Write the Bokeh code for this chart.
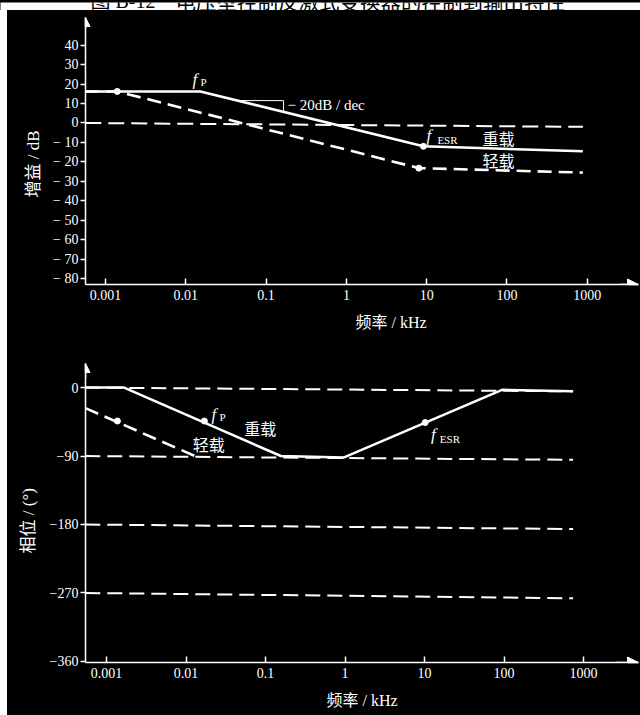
import math
from bokeh.plotting import figure
from bokeh.layouts import column, row
from bokeh.models import Range1d, FixedTicker, Label, Arrow, NormalHead, Spacer, Title
from bokeh.core.properties import value
from bokeh.embed import file_html
from bokeh.resources import INLINE

# ---------------- data ----------------
title_fig_no = "图 B-12"
title_text = "电压型控制反激式变换器的控制到输出特性"

x_ticks = [0.001, 0.01, 0.1, 1, 10, 100, 1000]
x_tick_labels = ["0.001", "0.01", "0.1", "1", "10", "100", "1000"]

gain_ticks = [-80, -70, -60, -50, -40, -30, -20, -10, 0, 10, 20, 30, 40]
gain_tick_labels = ["\u2212 80", "\u2212 70", "\u2212 60", "\u2212 50", "\u2212 40",
                    "\u2212 30", "\u2212 20", "\u2212 10", "0", "10", "20", "30", "40"]
phase_ticks = [-360, -270, -180, -90, 0]
phase_tick_labels = ["\u2212360", "\u2212270", "\u2212180", "\u221290", "0"]

# gain (dB) vs frequency (kHz)
gain_heavy_f = [0.00056, 0.0152, 9.1, 880]
gain_heavy_db = [16.2, 16.2, -12.0, -14.5]
gain_light_f = [0.00056, 0.0014, 8.0, 880]
gain_light_db = [16.2, 16.2, -23.2, -25.5]
gain_ref_f = [0.00056, 880]
gain_ref_db = [0.0, -2.0]
gain_dot_f = [0.0014, 9.1, 8.0]
gain_dot_db = [16.2, -12.0, -23.2]
slope_f = [0.045, 0.165, 0.165]
slope_db = [11.5, 11.5, 5.7]

# phase (deg) vs frequency (kHz)
phase_heavy_f = [0.00054, 0.00166, 0.156, 0.955, 94.5, 740]
phase_heavy_deg = [0, 0, -90, -92, -3, -5]
phase_light_f = [0.00054, 0.0129]
phase_light_deg = [-27, -90]
phase_ref_f = [0.00054, 740]
phase_ref_start = [0, -90, -180, -270]
phase_ref_end = [-5, -95, -186, -277]
phase_dot_f = [0.00137, 0.017, 10.2]
phase_dot_deg = [-44, -44, -46]

SERIF = "'Liberation Serif', 'Noto Sans CJK SC'"
CJK = "'Noto Sans CJK SC'"


def style(p):
    p.background_fill_color = "black"
    p.border_fill_color = "black"
    p.outline_line_color = None
    p.xgrid.visible = False
    p.ygrid.visible = False
    for ax in (p.xaxis[0], p.yaxis[0]):
        ax.axis_line_color = "white"
        ax.axis_line_width = 1.5
        ax.major_tick_line_color = "white"
        ax.major_tick_line_width = 1.5
        ax.minor_tick_line_color = None
        ax.major_label_text_color = "white"
        ax.major_label_text_font = "Liberation Serif"
        ax.major_label_text_font_size = "14px"
    xa = p.xaxis[0]
    xa.ticker = FixedTicker(ticks=x_ticks)
    xa.major_label_overrides = dict(zip(x_ticks, x_tick_labels))
    xa.major_tick_in = 6
    xa.major_tick_out = 0
    xa.major_label_standoff = 5
    ya = p.yaxis[0]
    ya.major_tick_in = 0
    ya.major_tick_out = 5
    ya.major_label_standoff = 2


def lab(p, x, y, text, size, font=SERIF, fstyle="normal"):
    p.add_layout(Label(x=x, y=y, text=text, text_color="white", text_font=font,
                       text_font_size=size, text_font_style=fstyle, text_align="left",
                       text_baseline="middle"))


def side_title(p, text, side, offset, standoff, size="16px"):
    p.add_layout(Title(text=text, align="left", offset=offset, standoff=standoff,
                       text_color="white", text_font=SERIF, text_font_size=size,
                       text_font_style="normal", background_fill_color=None), side)


# ---------------- title strip ----------------
t = figure(width=640, height=10, x_range=Range1d(0, 640), y_range=Range1d(0, 10),
           min_border=0, x_axis_location=None, y_axis_location=None,
           output_backend="svg", toolbar_location=None)
t.background_fill_color = "white"
t.border_fill_color = "white"
t.outline_line_color = None
t.xgrid.visible = False
t.ygrid.visible = False
t.text(x=[90], y=[11.5], text=[title_fig_no], text_color="black",
       text_font=value(SERIF), text_font_size="20px", text_baseline="middle")
t.text(x=[175], y=[11.5], text=[title_text], text_color="black",
       text_font=value(CJK), text_font_size="20.5px", text_baseline="middle")

# ---------------- gain panel ----------------
XL1, XR1 = 10 ** -3.249, 10 ** 3.638
YB1, YT1 = -83.0, 54.2
p1 = figure(width=633, height=335, x_axis_type="log", x_range=Range1d(XL1, XR1),
            y_range=Range1d(YB1, YT1), min_border_left=78, min_border_right=2,
            min_border_top=7, min_border_bottom=61,
            output_backend="svg", toolbar_location=None)
style(p1)
p1.yaxis[0].ticker = FixedTicker(ticks=gain_ticks)
p1.yaxis[0].major_label_overrides = dict(zip(gain_ticks, gain_tick_labels))

p1.line(gain_ref_f, gain_ref_db, line_color="white", line_width=2, line_dash="16 7")
p1.line(gain_light_f, gain_light_db, line_color="white", line_width=2.6, line_dash="14 7")
p1.line(gain_heavy_f, gain_heavy_db, line_color="white", line_width=2.5)
p1.line(slope_f, slope_db, line_color="white", line_width=1)
p1.scatter(gain_dot_f, gain_dot_db, size=6, color="white")

p1.add_layout(Arrow(end=NormalHead(size=11, fill_color="white", line_color="white"),
                    x_start=10 ** 3.4, y_start=YB1, x_end=XR1, y_end=YB1,
                    line_color="white", line_width=1.5))
p1.add_layout(Arrow(end=NormalHead(size=9, fill_color="white", line_color="white"),
                    x_start=XL1, y_start=YT1 - 6, x_end=XL1, y_end=YT1,
                    line_color="white", line_width=1.5))

lab(p1, 0.0121, 22.4, "f", "17px", fstyle="italic")
lab(p1, 0.0152, 20.8, "P", "11px")
lab(p1, 0.185, 9.25, "\u2212 20dB / dec", "15px")
lab(p1, 9.94, -6.4, "f", "17px", fstyle="italic")
lab(p1, 13.6, -8.5, "ESR", "11px")
lab(p1, 49.5, -7.5, "重载", "16px", font=CJK)
lab(p1, 49.5, -19.0, "轻载", "16px", font=CJK)
side_title(p1, "频率 / kHz", "below", offset=270, standoff=18)
side_title(p1, "增益 / dB", "left", offset=87, standoff=15, size="17px")

# ---------------- phase panel ----------------
XL2, XR2 = 10 ** -3.265, 10 ** 3.692
YB2, YT2 = -361.4, 31.6
p2 = figure(width=633, height=370, x_axis_type="log", x_range=Range1d(XL2, XR2),
            y_range=Range1d(YB2, YT2), min_border_left=75, min_border_right=1,
            min_border_top=18, min_border_bottom=53,
            output_backend="svg", toolbar_location=None)
style(p2)
p2.yaxis[0].ticker = FixedTicker(ticks=phase_ticks)
p2.yaxis[0].major_label_overrides = dict(zip(phase_ticks, phase_tick_labels))
xa2 = p2.xaxis[0]
xa2.axis_label = "频率 / kHz"
xa2.axis_label_text_color = "white"
xa2.axis_label_text_font = SERIF
xa2.axis_label_text_font_size = "16px"
xa2.axis_label_text_font_style = "normal"
xa2.axis_label_standoff = 11

p2.multi_line([phase_ref_f] * len(phase_ref_start),
              [[s, e] for s, e in zip(phase_ref_start, phase_ref_end)],
              line_color="white", line_width=2, line_dash="15 7")
p2.line(phase_light_f, phase_light_deg, line_color="white", line_width=2.6, line_dash="14 7")
p2.line(phase_heavy_f, phase_heavy_deg, line_color="white", line_width=2.5)
p2.scatter(phase_dot_f, phase_dot_deg, size=6, color="white")

p2.add_layout(Arrow(end=NormalHead(size=11, fill_color="white", line_color="white"),
                    x_start=10 ** 3.4, y_start=YB2, x_end=XR2, y_end=YB2,
                    line_color="white", line_width=1.5))
p2.add_layout(Arrow(end=NormalHead(size=9, fill_color="white", line_color="white"),
                    x_start=XL2, y_start=YT2 - 20, x_end=XL2, y_end=YT2,
                    line_color="white", line_width=1.5))

lab(p2, 0.02094, -34.9, "f", "17px", fstyle="italic")
lab(p2, 0.02636, -38.1, "P", "11px")
lab(p2, 0.0541, -53.3, "重载", "16px", font=CJK)
lab(p2, 0.01213, -73.7, "轻载", "16px", font=CJK)
lab(p2, 12.07, -61.8, "f", "17px", fstyle="italic")
lab(p2, 15.6, -67.1, "ESR", "11px")
side_title(p2, "相位 / (°)", "left", offset=109, standoff=18, size="17px")

body = column(p1, p2, styles={"background-color": "black"})
layout = column(t,
                row(Spacer(width=7, height=705, styles={"background-color": "white"}), body,
                    styles={"background-color": "black"}),
                styles={"background-color": "black"})

open("out.html", "w").write(file_html(layout, INLINE))
